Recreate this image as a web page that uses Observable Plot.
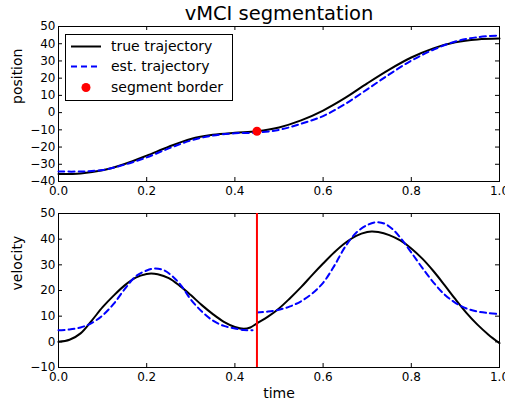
<!DOCTYPE html>
<html>
<head>
<meta charset="utf-8">
<script src="https://cdn.jsdelivr.net/npm/d3@7"></script>
<script src="https://cdn.jsdelivr.net/npm/@observablehq/plot@0.6"></script>
<style>
  body { margin: 0; background: #fff; }
  #wrap { position: relative; width: 505px; height: 405px; font-family: "DejaVu Sans", sans-serif; background: #fff; overflow: hidden; }
  #wrap > svg { position: absolute; left: 0; }
  #legend { position: absolute; left: 65px; top: 34px; width: 166px; height: 65px; border: 1px solid #000; background: #fff; }
  .row { position: absolute; left: 0; height: 21px; line-height: 21px; font-size: 14px; color: #000; white-space: nowrap; }
  .row svg { position: absolute; left: 4px; top: 0; }
  .row span { position: absolute; left: 45px; top: 0; }
</style>
</head>
<body>
<div id="wrap"></div>
<script>
// ---- data ----
const title = "vMCI segmentation";
const xLabel = "time";
const posLabel = "position";
const velLabel = "velocity";
const legendLabels = ["true trajectory", "est. trajectory", "segment border"];

const xTicks = [0, 0.2, 0.4, 0.6, 0.8, 1.0];
const posTicks = [-40, -30, -20, -10, 0, 10, 20, 30, 40, 50];
const velTicks = [-10, 0, 10, 20, 30, 40, 50];

const posTime = [0, 0.05, 0.1, 0.15, 0.2, 0.25, 0.3, 0.35, 0.4, 0.45, 0.5, 0.55, 0.6, 0.65, 0.7, 0.75, 0.8, 0.85, 0.9, 0.95, 1.0];
const posTrue = [-35.6, -35.3, -33.5, -29.8, -25, -19.8, -15.3, -12.9, -11.7, -10.8, -8.6, -4.5, 1.2, 8.5, 17, 25, 32, 37.3, 40.8, 42.5, 43];
const posEst  = [-34.2, -34.2, -33.3, -30.2, -26, -20.8, -16.2, -13.3, -12, -11.6, -10, -6.5, -2, 5, 13.5, 22.2, 30.2, 36.5, 41.3, 43.8, 44.8];

const borderTime = 0.45;
const borderPos = -10.8;

const velTrueTime = [0, 0.025, 0.05, 0.075, 0.1, 0.125, 0.15, 0.175, 0.2, 0.21, 0.225, 0.25, 0.275, 0.3, 0.325, 0.35, 0.375, 0.4, 0.42, 0.435, 0.45, 0.475, 0.5, 0.525, 0.55, 0.575, 0.6, 0.625, 0.65, 0.675, 0.7, 0.71, 0.725, 0.75, 0.775, 0.8, 0.825, 0.85, 0.875, 0.9, 0.925, 0.95, 0.975, 1.0];
const velTrue = [0, 0.8, 3.3, 8.2, 13.5, 18, 22, 25, 26.4, 26.6, 26.3, 24.8, 21.8, 18.2, 14.3, 10.8, 7.8, 5.8, 5.1, 5.6, 7.2, 9.8, 13, 17, 21.3, 26, 30.5, 34.8, 38.5, 41.3, 42.8, 43, 42.8, 41.6, 39.5, 36.4, 32.4, 27.6, 22.2, 16.6, 11.3, 6.7, 2.8, -0.5];

const velEstTime1 = [0, 0.025, 0.05, 0.075, 0.1, 0.125, 0.15, 0.175, 0.2, 0.22, 0.24, 0.26, 0.28, 0.3, 0.325, 0.35, 0.375, 0.4, 0.42, 0.44];
const velEst1 = [4.5, 4.8, 5.6, 7.3, 10.3, 14.8, 20.5, 25.5, 27.8, 28.6, 27.8, 25.3, 21.5, 16.5, 11.8, 8.3, 6.2, 5.2, 4.6, 4.5];

const velEstTime2 = [0.45, 0.475, 0.5, 0.525, 0.55, 0.575, 0.6, 0.625, 0.65, 0.675, 0.7, 0.72, 0.74, 0.76, 0.78, 0.8, 0.825, 0.85, 0.875, 0.9, 0.925, 0.95, 0.975, 1.0];
const velEst2 = [11.4, 11.8, 12.5, 13.8, 15.8, 18.8, 23, 29.5, 37, 42.5, 45.5, 46.6, 46, 43.5, 39.5, 34.8, 28.8, 23.2, 18.5, 15.2, 13, 11.8, 11.2, 10.8];

// ---- helpers ----
const zip = (xs, ys) => xs.map((x, i) => ({x, y: ys[i]}));
const W = 505, ML = 58, MR = 6;
const FW = W - ML - MR;
const blue = "#0000ff", red = "#ff0000";
const font = "DejaVu Sans";

function frameMarks(yTicks, fh) {
  return [
    Plot.ruleX(xTicks, {x: d => d, insetTop: fh - 4, stroke: "#000"}),
    Plot.ruleX(xTicks, {x: d => d, insetBottom: fh - 4, stroke: "#000"}),
    Plot.ruleY(yTicks, {y: d => d, insetRight: FW - 4, stroke: "#000"}),
    Plot.ruleY(yTicks, {y: d => d, insetLeft: FW - 4, stroke: "#000"}),
    Plot.frame({stroke: "#000", strokeWidth: 1})
  ];
}

const wrap = document.getElementById("wrap");

// ---- top: position ----
const topH = 200, topMT = 26, topMB = 19;
const topFH = topH - topMT - topMB;
const topChart = Plot.plot({
  width: W, height: topH,
  marginLeft: ML, marginRight: MR, marginTop: topMT, marginBottom: topMB,
  style: {fontFamily: font, fontSize: "12px", color: "#000", background: "#fff", overflow: "visible"},
  x: {domain: [0, 1], ticks: xTicks, tickFormat: d => d.toFixed(1), tickSize: 0, tickPadding: 5, label: null},
  y: {domain: [-40, 50], ticks: posTicks, tickSize: 0, tickPadding: 3, label: null},
  marks: [
    ...frameMarks(posTicks, topFH),
    Plot.line(zip(posTime, posTrue), {x: "x", y: "y", stroke: "#000", strokeWidth: 2, curve: "catmull-rom"}),
    Plot.line(zip(posTime, posEst), {x: "x", y: "y", stroke: blue, strokeWidth: 2, strokeDasharray: "6,4", curve: "catmull-rom"}),
    Plot.dot([{x: borderTime, y: borderPos}], {x: "x", y: "y", r: 4.5, fill: red, stroke: "none"}),
    Plot.text([title], {text: d => d, frameAnchor: "top", lineAnchor: "bottom", dy: -6.5, fontSize: 19.5, fill: "#000"}),
    Plot.text([posLabel], {text: d => d, frameAnchor: "left", rotate: -90, lineAnchor: "bottom", dx: -37, fontSize: 14, fill: "#000"})
  ]
});
topChart.style.top = "0px";
wrap.appendChild(topChart);

// ---- bottom: velocity ----
const botH = 205, botMT = 13, botMB = 38;
const botFH = botH - botMT - botMB;
const botChart = Plot.plot({
  width: W, height: botH,
  marginLeft: ML, marginRight: MR, marginTop: botMT, marginBottom: botMB,
  style: {fontFamily: font, fontSize: "12px", color: "#000", background: "#fff", overflow: "visible"},
  x: {domain: [0, 1], ticks: xTicks, tickFormat: d => d.toFixed(1), tickSize: 0, tickPadding: 5, label: null},
  y: {domain: [-10, 50], ticks: velTicks, tickSize: 0, tickPadding: 3, label: null},
  marks: [
    ...frameMarks(velTicks, botFH),
    Plot.line(zip(velTrueTime, velTrue), {x: "x", y: "y", stroke: "#000", strokeWidth: 2, curve: "catmull-rom"}),
    Plot.line(zip(velEstTime1, velEst1), {x: "x", y: "y", stroke: blue, strokeWidth: 2, strokeDasharray: "6,4", curve: "catmull-rom"}),
    Plot.line(zip(velEstTime2, velEst2), {x: "x", y: "y", stroke: blue, strokeWidth: 2, strokeDasharray: "6,4", curve: "catmull-rom"}),
    Plot.ruleX([borderTime], {x: d => d, stroke: red, strokeWidth: 2}),
    Plot.text([xLabel], {text: d => d, frameAnchor: "bottom", lineAnchor: "bottom", dy: 30.7, fontSize: 14, fill: "#000"}),
    Plot.text([velLabel], {text: d => d, frameAnchor: "left", rotate: -90, lineAnchor: "bottom", dx: -37, fontSize: 14, fill: "#000"})
  ]
});
botChart.style.top = "200px";
wrap.appendChild(botChart);

// ---- legend ----
const legend = document.createElement("div");
legend.id = "legend";
const rowCenters = [11, 31, 52];
const ns = "http://www.w3.org/2000/svg";
legendLabels.forEach((label, i) => {
  const row = document.createElement("div");
  row.className = "row";
  row.style.top = (rowCenters[i] - 10.5) + "px";
  const sw = document.createElementNS(ns, "svg");
  sw.setAttribute("width", 32); sw.setAttribute("height", 21);
  if (i < 2) {
    const l = document.createElementNS(ns, "line");
    l.setAttribute("x1", 1); l.setAttribute("x2", 31);
    l.setAttribute("y1", 10.5); l.setAttribute("y2", 10.5);
    l.setAttribute("stroke", i === 0 ? "#000" : blue);
    l.setAttribute("stroke-width", 2);
    if (i === 1) l.setAttribute("stroke-dasharray", "6,4");
    sw.appendChild(l);
  } else {
    const c = document.createElementNS(ns, "circle");
    c.setAttribute("cx", 16); c.setAttribute("cy", 10.5); c.setAttribute("r", 4.5);
    c.setAttribute("fill", red);
    sw.appendChild(c);
  }
  row.appendChild(sw);
  const sp = document.createElement("span");
  sp.textContent = label;
  row.appendChild(sp);
  legend.appendChild(row);
});
wrap.appendChild(legend);
</script>
</body>
</html>
